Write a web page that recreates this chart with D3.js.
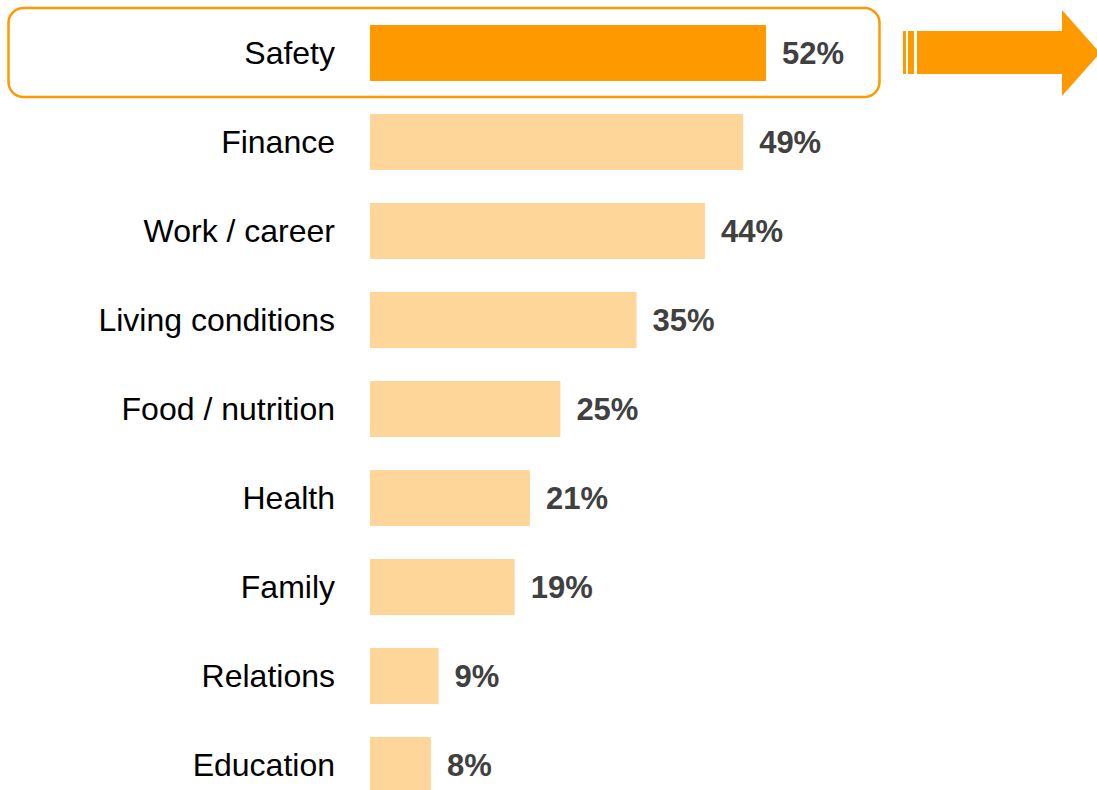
<!DOCTYPE html>
<html>
<head>
<meta charset="utf-8">
<script src="https://cdn.jsdelivr.net/npm/d3@7"></script>
<style>
  html, body { margin: 0; padding: 0; background: #fff; }
  svg { display: block; }
</style>
</head>
<body>
<div id="chart"></div>
<script>
// data
const categories = ["Safety", "Finance", "Work / career", "Living conditions", "Food / nutrition", "Health", "Family", "Relations", "Education"];
const values = [52, 49, 44, 35, 25, 21, 19, 9, 8];
const highlighted = "Safety";

const fullWidth = 1097;
const fullHeight = 790;
const barLeft = 370;

const svg = d3.select("#chart").append("svg")
    .attr("width", fullWidth)
    .attr("height", fullHeight);

const rows = categories.map((c, i) => ({ cat: c, value: values[i] }));

// 52% -> 396px
const x = d3.scaleLinear().domain([0, 52]).range([barLeft, barLeft + 396]);
const y = d3.scaleBand().domain(categories).range([8.5, 809.5])
    .paddingInner(0.371)
    .paddingOuter(0.1855);

// highlight box round the first row
const yH = y(highlighted);
svg.append("rect")
    .attr("x", 8.5)
    .attr("y", yH - 17)
    .attr("width", 871)
    .attr("height", y.bandwidth() + 33)
    .attr("rx", 15)
    .attr("ry", 15)
    .style("fill", "none")
    .style("stroke", "#FF9900")
    .style("stroke-width", 2.5);

// arrow to the right of the box
const aMid = yH + y.bandwidth() / 2;
const shaftTop = aMid - 22, shaftBot = aMid + 21;
svg.append("rect").attr("x", 903).attr("y", shaftTop).attr("width", 3).attr("height", shaftBot - shaftTop).style("fill", "#FF9900");
svg.append("rect").attr("x", 908).attr("y", shaftTop).attr("width", 6).attr("height", shaftBot - shaftTop).style("fill", "#FF9900");
svg.append("path")
    .attr("d", `M917,${shaftTop} L1062,${shaftTop} L1062,${aMid - 43} L1100,${aMid} L1062,${aMid + 43} L1062,${shaftBot} L917,${shaftBot} Z`)
    .style("fill", "#FF9900");

// bars
svg.selectAll(".bar")
    .data(rows)
    .enter().append("rect")
    .attr("class", "bar")
    .attr("x", x(0))
    .attr("y", d => y(d.cat))
    .attr("width", d => x(d.value) - x(0))
    .attr("height", y.bandwidth())
    .style("fill", d => d.cat === highlighted ? "#FF9900" : "#FFD699");

// category labels
svg.selectAll(".cat-label")
    .data(rows)
    .enter().append("text")
    .attr("class", "cat-label")
    .attr("x", 335)
    .attr("y", d => y(d.cat) + y.bandwidth() / 2)
    .attr("dy", "0.33em")
    .attr("text-anchor", "end")
    .style("font-family", "Arial, 'Liberation Sans', sans-serif")
    .style("font-size", "32px")
    .style("fill", "#000")
    .text(d => d.cat);

// value labels
svg.selectAll(".value-label")
    .data(rows)
    .enter().append("text")
    .attr("class", "value-label")
    .attr("x", d => x(d.value) + 16)
    .attr("y", d => y(d.cat) + y.bandwidth() / 2)
    .attr("dy", "0.37em")
    .attr("text-anchor", "start")
    .style("font-family", "Arial, 'Liberation Sans', sans-serif")
    .style("font-size", "31px")
    .style("font-weight", "bold")
    .style("fill", "#404040")
    .text(d => `${d.value}%`);
</script>
</body>
</html>
